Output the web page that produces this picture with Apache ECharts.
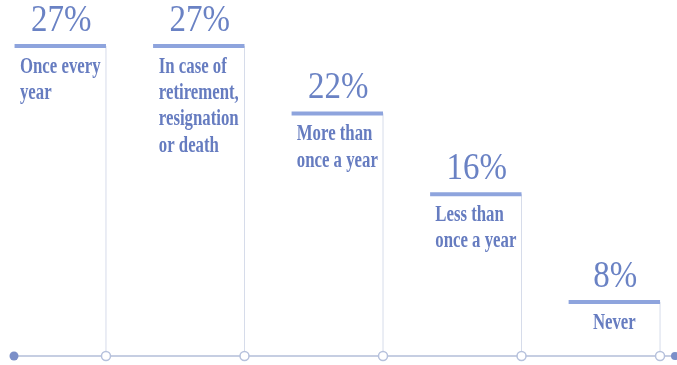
<!DOCTYPE html>
<html>
<head>
<meta charset="utf-8">
<script src="https://cdn.jsdelivr.net/npm/echarts@6/dist/echarts.min.js"></script>
<style>
  html, body { margin: 0; padding: 0; background: #fff; }
  #main { width: 677px; height: 365px; }
</style>
</head>
<body>
<div id="main"></div>
<script>
const categories = ['Once every\nyear', 'In case of\nretirement,\nresignation\nor death', 'More than\nonce a year', 'Less than\nonce a year', 'Never'];
const values = [27, 27, 22, 16, 8];
const percentLabels = values.map(v => v + '%');

const yMin = 4, yMax = 27;
const xMin = 0.336, xMax = 5.108;
const catFont = 'bold 16.8px "Liberation Serif"';

// measure widest line so the text block sits centered under its bar
const ctx = document.createElement('canvas').getContext('2d');
ctx.font = catFont;
function blockWidth(t) {
  return Math.max.apply(null, t.split('\n').map(s => ctx.measureText(s).width));
}

const myChart = echarts.init(document.getElementById('main'));

function renderItem(params, api) {
  const i = params.dataIndex;
  const x = api.value(0), v = api.value(1);
  const end = api.coord([x, v]);
  const base = api.coord([x, yMin]);
  const w = api.size([0.66, 0])[0];
  const mid = end[0] - w / 2;
  const kids = [
    { type: 'line', shape: { x1: end[0], y1: end[1], x2: end[0], y2: base[1] },
      style: { stroke: '#d6dcea', lineWidth: 1 } },
    { type: 'line', shape: { x1: end[0] - w, y1: end[1], x2: end[0], y2: end[1] },
      style: { stroke: '#8ea4dd', lineWidth: 4 } },
    { type: 'text', x: mid + 1, y: end[1] - 6, scaleY: 1.15,
      style: { x: 0, y: 0, text: percentLabels[i], fill: '#6a82c4',
        font: '33px "Liberation Serif"', align: 'center', verticalAlign: 'bottom' } },
    { type: 'text', x: mid - blockWidth(categories[i]) / 2, y: end[1] + 8, scaleY: 1.35,
      style: { x: 0, y: 0, text: categories[i], fill: '#667cc0',
        font: catFont, lineHeight: 19.4, align: 'left', verticalAlign: 'top' } },
    { type: 'circle', shape: { cx: base[0], cy: base[1], r: 4.5 },
      style: { fill: '#fff', stroke: '#b6c1dc', lineWidth: 1.5 } }
  ];
  if (i === 0) {
    const p = api.coord([xMin, yMin]);
    kids.push({ type: 'circle', shape: { cx: p[0], cy: p[1], r: 4.5 }, style: { fill: '#7b8fc8' } });
  }
  if (i === values.length - 1) {
    const p = api.coord([xMax, yMin]);
    kids.push({ type: 'circle', shape: { cx: p[0], cy: p[1], r: 4 }, style: { fill: '#7b8fc8' } });
  }
  return { type: 'group', children: kids };
}

const option = {
  animation: false,
  grid: { left: 14, right: 2, top: 46, bottom: 9 },
  xAxis: {
    type: 'value', min: xMin, max: xMax,
    axisLine: { show: true, lineStyle: { color: '#c6cee2', width: 2 } },
    axisTick: { show: false }, axisLabel: { show: false }, splitLine: { show: false }
  },
  yAxis: { type: 'value', min: yMin, max: yMax, show: false, splitLine: { show: false } },
  series: [{
    type: 'custom',
    renderItem: renderItem,
    clip: false,
    data: values.map((v, i) => [i + 1, v])
  }]
};

myChart.setOption(option);
</script>
</body>
</html>
